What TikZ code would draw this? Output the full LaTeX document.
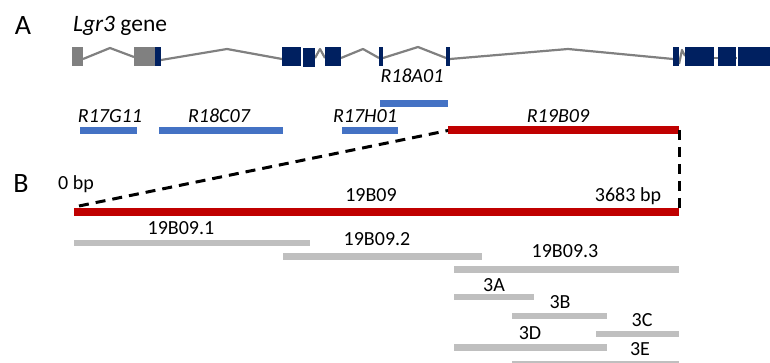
\documentclass[tikz,border=0pt]{standalone}
\usepackage{fontspec}
\setmainfont{Carlito}
\definecolor{navy}{HTML}{002060}
\definecolor{utrgray}{HTML}{808080}
\definecolor{lngray}{HTML}{808080}
\definecolor{rblue}{HTML}{4472C4}
\definecolor{rred}{HTML}{C00000}
\definecolor{fgray}{HTML}{BFBFBF}
\tikzset{
  txt/.style={font=\fontsize{20}{24}\selectfont, inner sep=0pt, anchor=base},
  rlab/.style={txt, font=\fontsize{20}{24}\selectfont\itshape},
  panel/.style={font=\fontsize{28}{32}\selectfont, inner sep=0pt, anchor=base},
  exon/.style={fill=navy, draw=none},
  utr/.style={fill=utrgray, draw=none},
  intron/.style={draw=lngray, line width=2.2pt, line join=round},
  rbar/.style={draw=rblue, line width=7pt},
  redbar/.style={draw=rred, line width=8pt},
  frag/.style={draw=fgray, line width=6.5pt},
  guide/.style={draw=black, line width=3pt, dash pattern=on 10pt off 7pt}
}
\begin{document}
\begin{tikzpicture}[x=1pt, y=-1pt]
\useasboundingbox (0,0) rectangle (770,363);

% panel letters and gene title
\node[panel] (pA) at (23,35) {A};
\node[panel] (pB) at (21,193) {B};
\node[txt, anchor=base west, font=\fontsize{23.5}{28}\selectfont] (gene) at (73,32) {\textit{Lgr3} gene};

% introns of the gene model
\draw[intron] (83,59) -- (110,48) -- (134,57);
\draw[intron] (161,60) -- (227,49) -- (282,59);
\draw[intron] (315,58) -- (320,49) -- (325,58);
\draw[intron] (341,58) -- (363,49) -- (379,58);
\draw[intron] (383,58) -- (418,47) -- (446,58);
\draw[intron] (450,59) -- (568,49) -- (673,59);
\draw[intron] (679,64) -- (682,50) -- (685,56);
\draw[intron] (714,58) -- (737,58);

% exons
\fill[utr] (72,47) rectangle (83,66);
\fill[utr] (134,47) rectangle (155,66);
\fill[exon] (155,47) rectangle (161,66);
\fill[exon] (282,47) rectangle (301,66);
\fill[exon] (303,48) rectangle (315,67);
\fill[exon] (325,47) rectangle (341,66);
\fill[exon] (379,47) rectangle (383,66);
\fill[exon] (446,47) rectangle (450,66);
\fill[exon] (673,47) rectangle (679,66);
\fill[exon] (685,47) rectangle (714,66);
\fill[exon] (718,47) rectangle (736,66);
\fill[exon] (738,47) rectangle (770,66);

% reporter fragments along the locus
\draw[rbar] (380,103.5) -- (448,103.5);
\node[rlab] (l18a01) at (412,83) {R18A01};
\draw[rbar] (80,130.5) -- (137,130.5);
\node[rlab] (l17g11) at (110,123) {R17G11};
\draw[rbar] (159,130.5) -- (283,130.5);
\node[rlab] (l18c07) at (219,123) {R18C07};
\draw[rbar] (342,130.5) -- (398,130.5);
\node[rlab] (l17h01) at (365,123) {R17H01};
\coordinate (rL) at (448,130.5);
\coordinate (rR) at (679,130.5);
\draw[redbar] (rL) -- (rR);
\node[rlab] (l19b09) at (558,123) {R19B09};

% zoomed 19B09 fragment
\coordinate (zL) at (74,212);
\coordinate (zR) at (679,212);
\draw[redbar] (zL) -- (zR);
\node[txt] (z0) at (76,190) {0 bp};
\node[txt] (zname) at (371,202) {19B09};
\node[txt] (zend) at (628,202) {3683 bp};

% guides from the locus to the zoomed fragment
\draw[guide] (79,206) -- (rL);
\draw[guide] (679,130) -- (679,208);

% sub-fragments
\draw[frag] (74,243) -- (310,243);
\node[txt] (f1) at (181,234) {19B09.1};
\draw[frag] (283,256.5) -- (482,256.5);
\node[txt] (f2) at (377,245) {19B09.2};
\draw[frag] (454,269.5) -- (679,269.5);
\node[txt] (f3) at (565,258) {19B09.3};
\draw[frag] (454,297) -- (534,297);
\node[txt] (f3a) at (494,291) {3A};
\draw[frag] (512,316) -- (607,316);
\node[txt] (f3b) at (560,308) {3B};
\draw[frag] (596,334) -- (679,334);
\node[txt] (f3c) at (642,326) {3C};
\draw[frag] (454,347.5) -- (607,347.5);
\node[txt] (f3d) at (530,339) {3D};
\draw[frag] (512,364.5) -- (679,364.5);
\node[txt] (f3e) at (640,355) {3E};
\end{tikzpicture}
\end{document}
